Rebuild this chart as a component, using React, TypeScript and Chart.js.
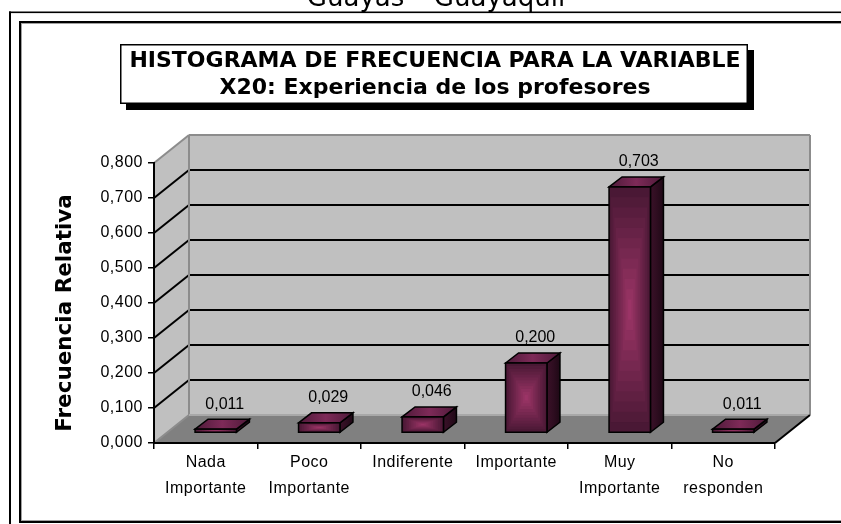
import React, { useEffect, useRef } from 'react';
import { Chart, registerables } from 'chart.js';

Chart.register(...registerables);

// ---- Data ----
const headerText = 'Guayas – Guayaquil';
const titleLines = ['HISTOGRAMA DE FRECUENCIA PARA LA VARIABLE', 'X20: Experiencia de los profesores'];
const yAxisTitle = 'Frecuencia Relativa';
const categories: (string | string[])[] = [
  ['Nada', 'Importante'],
  ['Poco', 'Importante'],
  'Indiferente',
  'Importante',
  ['Muy', 'Importante'],
  ['No', 'responden'],
];
const frecuenciaRelativa = [0.011, 0.029, 0.046, 0.2, 0.703, 0.011];
const valueLabels = ['0,011', '0,029', '0,046', '0,200', '0,703', '0,011'];
const yMin = 0;
const yMax = 0.8;
const yStep = 0.1;

// ---- Style constants ----
const DEPTH_X = 35;
const DEPTH_Y = -28;
const BAR_SHIFT_X = 10;
const BAR_SHIFT_Y = -10;
const BAR_DEPTH_X = 13;
const BAR_DEPTH_Y = -10;
const TICK_FONT = '"Liberation Sans", Arial, sans-serif';
const TITLE_FONT = '"DejaVu Sans", Verdana, sans-serif';
const TICK_SPACING = '0.5px';

function hexToRgb(h: string) {
  const n = parseInt(h.slice(1), 16);
  return [(n >> 16) & 255, (n >> 8) & 255, n & 255];
}
function lerp(a: string, b: string, t: number) {
  const A = hexToRgb(a), B = hexToRgb(b);
  const c = A.map((v, i) => Math.round(v + (B[i] - v) * t));
  return `rgb(${c[0]},${c[1]},${c[2]})`;
}

function poly(ctx: CanvasRenderingContext2D, pts: number[][], fill?: string | CanvasGradient, stroke?: string, lw = 1.5) {
  ctx.beginPath();
  ctx.moveTo(pts[0][0], pts[0][1]);
  for (let i = 1; i < pts.length; i++) ctx.lineTo(pts[i][0], pts[i][1]);
  ctx.closePath();
  if (fill) {
    ctx.fillStyle = fill;
    ctx.fill();
  }
  if (stroke) {
    ctx.strokeStyle = stroke;
    ctx.lineWidth = lw;
    ctx.stroke();
  }
}
function line(ctx: CanvasRenderingContext2D, x0: number, y0: number, x1: number, y1: number) {
  ctx.beginPath();
  ctx.moveTo(x0, y0);
  ctx.lineTo(x1, y1);
  ctx.stroke();
}

const scenePlugin = {
  id: 'scene3d',
  beforeDraw(chart: any) {
    const ctx: any = chart.ctx;
    const W = chart.width;
    const H = chart.height;
    ctx.save();
    ctx.letterSpacing = '0px';
    ctx.fillStyle = '#ffffff';
    ctx.fillRect(0, 0, W, H);

    // header text (cut at the top)
    ctx.fillStyle = '#000';
    ctx.font = `26px ${TITLE_FONT}`;
    ctx.textAlign = 'center';
    ctx.textBaseline = 'alphabetic';
    ctx.fillText(headerText, 436, 6);

    // outer frame
    ctx.fillStyle = '#000';
    ctx.fillRect(9, 11.5, W - 9, 1.6);
    ctx.fillRect(9, 11.5, 2, H - 11.5);
    // inner frame
    ctx.fillRect(19, 21, W - 19, 2);
    ctx.fillRect(19, 21, 2, 502);
    ctx.fillRect(19, 521, W - 19, 2);
    ctx.fillStyle = '#a0a0a0';
    ctx.fillRect(21, 23, W - 21, 1);
    ctx.fillRect(21, 23, 1, 497);
    ctx.fillRect(21, 520, W - 21, 1);

    // title box with shadow
    ctx.fillStyle = '#000';
    ctx.fillRect(126, 50, 628, 60);
    ctx.fillStyle = '#fff';
    ctx.fillRect(120, 44, 628, 60);
    ctx.strokeStyle = '#000';
    ctx.lineWidth = 1.5;
    ctx.strokeRect(120.75, 44.75, 626.5, 58.5);
    ctx.fillStyle = '#000';
    ctx.font = `bold 22px ${TITLE_FONT}`;
    ctx.textBaseline = 'middle';
    ctx.fillText(titleLines[0], 435, 61);
    ctx.fillText(titleLines[1], 435, 88);

    // 3D walls and floor
    const area = chart.chartArea;
    const ys = chart.scales.y;
    const L = area.left;
    const R = area.right;
    const T = ys.getPixelForValue(ys.max);
    const B = ys.getPixelForValue(ys.min);
    const dx = DEPTH_X;
    const dy = DEPTH_Y;
    poly(ctx, [[L + dx, T + dy], [R + dx, T + dy], [R + dx, B + dy], [L + dx, B + dy]], '#c0c0c0');
    poly(ctx, [[L, T], [L + dx, T + dy], [L + dx, B + dy], [L, B]], '#c0c0c0');
    poly(ctx, [[L, B], [R, B], [R + dx, B + dy], [L + dx, B + dy]], '#808080');

    ctx.strokeStyle = '#000';
    ctx.lineWidth = 2;
    ys.ticks.forEach((t: any) => {
      if (t.value <= ys.min || t.value >= ys.max) return;
      const y = ys.getPixelForValue(t.value);
      line(ctx, L, y, L + dx, y + dy);
      line(ctx, L + dx, y + dy, R + dx, y + dy);
    });

    ctx.strokeStyle = '#8c8c8c';
    ctx.lineWidth = 2;
    line(ctx, L, T, L + dx, T + dy);
    line(ctx, L + dx, T + dy, R + dx, T + dy);
    line(ctx, R + dx, T + dy, R + dx, B + dy);
    line(ctx, L + dx, T + dy, L + dx, B + dy);
    line(ctx, L, B, L + dx, B + dy);
    ctx.strokeStyle = '#a8a8a8';
    line(ctx, L + dx, B + dy, R + dx, B + dy);
    ctx.strokeStyle = '#000';
    line(ctx, R, B, R + dx, B + dy);

    // y axis title
    ctx.save();
    ctx.translate(65, 313);
    ctx.rotate(-Math.PI / 2);
    ctx.font = `bold 21.5px ${TITLE_FONT}`;
    ctx.textAlign = 'center';
    ctx.textBaseline = 'middle';
    ctx.fillStyle = '#000';
    ctx.fillText(yAxisTitle, 0, 0);
    ctx.restore();

    ctx.restore();
    ctx.letterSpacing = TICK_SPACING;
  },
  afterDatasetsDraw(chart: any) {
    const ctx: any = chart.ctx;
    const meta = chart.getDatasetMeta(0);
    ctx.save();
    ctx.letterSpacing = '0px';
    meta.data.forEach((el: any, i: number) => {
      const { x, y, base, width } = el.getProps(['x', 'y', 'base', 'width'], true);
      const x0 = x - width / 2 + BAR_SHIFT_X;
      const x1 = x + width / 2 + BAR_SHIFT_X;
      const yT = y + BAR_SHIFT_Y;
      const yB = base + BAR_SHIFT_Y;
      const w = x1 - x0;
      const h = yB - yT;
      const bdx = BAR_DEPTH_X;
      const bdy = BAR_DEPTH_Y;

      // side face
      const sg = ctx.createLinearGradient(x1, 0, x1 + bdx, 0);
      sg.addColorStop(0, '#3a1128');
      sg.addColorStop(0.5, '#2e0d20');
      sg.addColorStop(1, '#1e0815');
      poly(ctx, [[x1, yT], [x1 + bdx, yT + bdy], [x1 + bdx, yB + bdy], [x1, yB]], sg, '#000', 1.5);
      // top face
      const tg = ctx.createLinearGradient(x0, 0, x1 + bdx, 0);
      tg.addColorStop(0, '#4e1a39');
      tg.addColorStop(0.5, '#7e2a58');
      tg.addColorStop(1, '#4e1a39');
      poly(ctx, [[x0, yT], [x0 + bdx, yT + bdy], [x1 + bdx, yT + bdy], [x1, yT]], tg, '#000', 1.5);
      // front face: concentric rectangular gradient
      const N = 12;
      for (let k = 0; k < N; k++) {
        const t = k / N;
        const ix = (t * w) / 2;
        const iy = (t * h) / 2;
        ctx.fillStyle = lerp('#4a1835', '#a2376a', t);
        ctx.fillRect(x0 + ix, yT + iy, w - 2 * ix, h - 2 * iy);
      }
      ctx.strokeStyle = '#000';
      ctx.lineWidth = 1.5;
      ctx.strokeRect(x0, yT, w, h);

      // value label
      ctx.fillStyle = '#000';
      ctx.font = `16px ${TICK_FONT}`;
      ctx.textAlign = 'center';
      ctx.textBaseline = 'middle';
      ctx.fillText(valueLabels[i], (x0 + x1) / 2 + 9, yT + bdy - 15);
    });
    ctx.restore();
    ctx.letterSpacing = TICK_SPACING;
  },
};

export default function App() {
  const canvasRef = useRef<HTMLCanvasElement | null>(null);

  useEffect(() => {
    if (!canvasRef.current) return;
    const chart = new Chart(canvasRef.current, {
      type: 'bar',
      data: {
        labels: categories as any,
        datasets: [
          {
            data: frecuenciaRelativa,
            backgroundColor: 'rgba(0,0,0,0)',
            borderWidth: 0,
            barPercentage: 0.4,
            categoryPercentage: 1,
          },
        ],
      },
      options: {
        responsive: false,
        animation: false,
        devicePixelRatio: 1,
        layout: { padding: { left: 20, right: 66, top: 163, bottom: 21 } },
        plugins: {
          legend: { display: false },
          title: { display: false },
          tooltip: { enabled: false },
        },
        scales: {
          x: {
            grid: {
              display: true,
              drawOnChartArea: false,
              drawTicks: true,
              tickLength: 6,
              color: '#000',
              lineWidth: 1.5,
              offset: true,
            },
            border: { display: true, color: '#000', width: 2 },
            ticks: {
              color: '#000',
              font: { family: TICK_FONT, size: 16, lineHeight: 1.625 },
              padding: 1,
              maxRotation: 0,
              minRotation: 0,
              autoSkip: false,
            },
            afterFit: (s: any) => {
              s.height = 60;
            },
          },
          y: {
            min: yMin,
            max: yMax,
            ticks: {
              stepSize: yStep,
              color: '#000',
              font: { family: TICK_FONT, size: 16 },
              padding: 5,
              callback: (v: any) => Number(v).toFixed(3).replace('.', ','),
            },
            grid: {
              drawOnChartArea: false,
              drawTicks: true,
              tickLength: 6,
              color: '#000',
              lineWidth: 1.5,
            },
            border: { display: true, color: '#000', width: 2 },
            afterFit: (s: any) => {
              s.width = 134;
            },
          },
        },
      },
      plugins: [scenePlugin],
    } as any);
    return () => chart.destroy();
  }, []);

  return (
    <div style={{ position: 'absolute', left: 0, top: 0, width: 841, height: 524 }}>
      <canvas ref={canvasRef} width={841} height={524} style={{ display: 'block' }} />
    </div>
  );
}
